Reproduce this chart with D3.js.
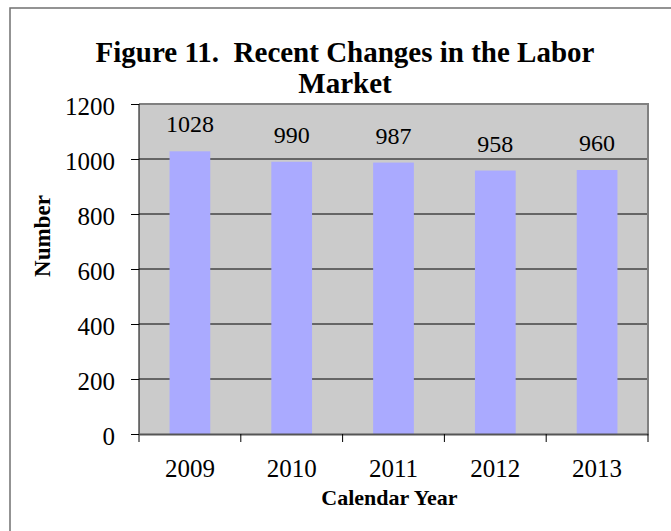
<!DOCTYPE html>
<html>
<head>
<meta charset="utf-8">
<script src="https://cdnjs.cloudflare.com/ajax/libs/d3/7.8.5/d3.min.js"></script>
<style>
  body { margin: 0; background: #fff; }
  svg text { font-family: "Liberation Serif", "Times New Roman", serif !important; }
</style>
</head>
<body>
<div id="chart"></div>
<script>
// data
var years = ["2009", "2010", "2011", "2012", "2013"];
var counts = [1028, 990, 987, 958, 960];
var yTicks = [0, 200, 400, 600, 800, 1000, 1200];

var W = 671, H = 531;
var margin = {top: 104, right: 23, bottom: 97, left: 139},
    width = W - margin.left - margin.right,
    height = H - margin.top - margin.bottom;
var serif = "Liberation Serif, Times New Roman, serif";

var svg = d3.select("#chart")
  .append("svg")
    .attr("width", W)
    .attr("height", H);

// outer frame (cropped on the right and bottom)
svg.append("rect")
  .attr("x", 10).attr("y", 8)
  .attr("width", 700).attr("height", 600)
  .attr("fill", "none")
  .attr("stroke", "#707070")
  .attr("stroke-width", 1.5);

// title
svg.append("text")
  .attr("x", 345).attr("y", 62)
  .attr("text-anchor", "middle")
  .attr("font-size", 29).attr("font-weight", "bold")
  .attr("xml:space", "preserve")
  .text("Figure 11.  Recent Changes in the Labor");
svg.append("text")
  .attr("x", 345).attr("y", 93)
  .attr("text-anchor", "middle")
  .attr("font-size", 29).attr("font-weight", "bold")
  .text("Market");

var g = svg.append("g")
  .attr("transform", "translate(" + margin.left + "," + margin.top + ")");

var x = d3.scaleBand().domain(years).range([0, width]).paddingInner(0.6).paddingOuter(0.3);
var xb = d3.scaleBand().domain(years).range([0, width]);
var y = d3.scaleLinear().domain([0, 1200]).range([height, 0]);

// plot area
g.append("rect")
  .attr("width", width).attr("height", height)
  .attr("fill", "#cbcbcb");

// gridlines
g.selectAll("line.grid")
  .data(yTicks.slice(1, -1))
  .enter().append("line")
  .attr("class", "grid")
  .attr("x1", 0).attr("x2", width)
  .attr("y1", function(d) { return y(d); })
  .attr("y2", function(d) { return y(d); })
  .attr("stroke", "#000").attr("stroke-width", 1);

// bars
g.selectAll("rect.bar")
  .data(counts)
  .enter().append("rect")
  .attr("class", "bar")
  .attr("x", function(d, i) { return x(years[i]); })
  .attr("y", function(d) { return y(d); })
  .attr("width", x.bandwidth())
  .attr("height", function(d) { return height - y(d); })
  .attr("fill", "#aaaaff");

// top / right border of plot area
g.append("path")
  .attr("d", "M0,0H" + width + "V" + height)
  .attr("fill", "none")
  .attr("stroke", "#808080")
  .attr("stroke-width", 2);

// value labels
g.selectAll("text.val")
  .data(counts)
  .enter().append("text")
  .attr("class", "val")
  .attr("x", function(d, i) { return x(years[i]) + x.bandwidth() / 2; })
  .attr("y", function(d) { return y(d) - 19; })
  .attr("text-anchor", "middle")
  .attr("font-size", 24)
  .style("font-family", serif)
  .text(function(d) { return d; });

// y axis
var yAxis = g.append("g")
  .call(d3.axisLeft(y).tickValues(yTicks).tickFormat(d3.format("d")).tickSize(8).tickPadding(16));
yAxis.attr("font-family", serif);
yAxis.selectAll("text")
  .attr("font-size", 25)
  .style("font-family", serif)
  .attr("fill", "#000")
  .attr("dy", "0.4em");
yAxis.selectAll("line").attr("stroke", "#000");
yAxis.select(".domain").attr("stroke", "#000").attr("d", "M0," + height + "V0");

// x axis
var xAxis = g.append("g")
  .attr("transform", "translate(0," + height + ")")
  .call(d3.axisBottom(xb).tickSize(0).tickPadding(0));
xAxis.attr("font-family", serif);
xAxis.select(".domain").attr("stroke", "#555").attr("stroke-width", 2);
xAxis.selectAll("text")
  .attr("font-size", 25)
  .style("font-family", serif)
  .attr("fill", "#000")
  .attr("y", 43).attr("dy", 0);
// ticks between categories
g.selectAll("line.xt")
  .data(d3.range(years.length + 1))
  .enter().append("line")
  .attr("class", "xt")
  .attr("x1", function(i) { return i * xb.bandwidth(); })
  .attr("x2", function(i) { return i * xb.bandwidth(); })
  .attr("y1", height).attr("y2", height + 8)
  .attr("stroke", "#000");

// axis titles
svg.append("text")
  .attr("x", margin.left + width / 2 - 4).attr("y", 505)
  .attr("text-anchor", "middle")
  .attr("font-size", 22).attr("font-weight", "bold")
  .text("Calendar Year");
svg.append("text")
  .attr("transform", "translate(50,236) rotate(-90)")
  .attr("text-anchor", "middle")
  .attr("font-size", 23).attr("font-weight", "bold")
  .text("Number");
</script>
</body>
</html>
